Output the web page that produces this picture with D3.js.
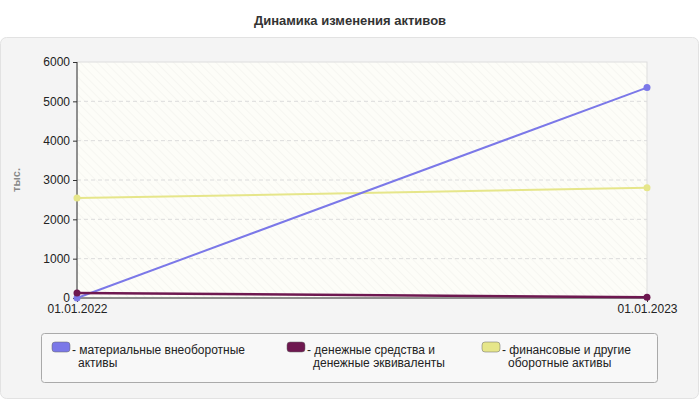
<!DOCTYPE html>
<html lang="ru">
<head>
<meta charset="utf-8">
<script src="https://d3js.org/d3.v7.min.js"></script>
<style>
  body { margin: 0; background: #fff; font-family: "Liberation Sans", Arial, sans-serif; }
</style>
</head>
<body>
<script>
// data
var dates = ["01.01.2022", "01.01.2023"];
var seriesNames = ["материальные внеоборотные\nактивы", "денежные средства и\nденежные эквиваленты", "финансовые и другие\nоборотные активы"];
var seriesColors = ["#7b78e8", "#6e1850", "#e6e68a"];
var material = [0, 5350];
var cash = [130, 20];
var financial = [2540, 2800];
var yTicks = [0, 1000, 2000, 3000, 4000, 5000, 6000];

var allSeries = [material, cash, financial];

var svg = d3.select("body").append("svg").attr("width", 700).attr("height", 400);

var defs = svg.append("defs");
var pat = defs.append("pattern").attr("id", "hatch").attr("width", 6).attr("height", 6)
  .attr("patternUnits", "userSpaceOnUse").attr("patternTransform", "rotate(-45)");
pat.append("rect").attr("width", 6).attr("height", 6).attr("fill", "#fdfdf8");
pat.append("line").attr("x1", 0).attr("y1", 0).attr("x2", 0).attr("y2", 6)
  .attr("stroke", "#efefea").attr("stroke-width", 1);

svg.append("text").text("Динамика изменения активов")
  .attr("x", 350).attr("y", 25).attr("text-anchor", "middle")
  .style("font-size", "13px").style("font-weight", "bold").attr("fill", "#333");

svg.append("rect").attr("x", 0.5).attr("y", 37.5).attr("width", 698).attr("height", 361)
  .attr("rx", 6).attr("fill", "#f4f4f4").attr("stroke", "#e2e2e2");

var pLeft = 77, pRight = 647, pTop = 62, pBottom = 298;
var x = d3.scalePoint().domain(dates).range([pLeft, pRight]);
var y = d3.scaleLinear().domain([0, 6000]).range([pBottom, pTop]);

svg.append("rect").attr("x", pLeft).attr("y", pTop).attr("width", pRight - pLeft).attr("height", pBottom - pTop)
  .attr("fill", "url(#hatch)").attr("stroke", "#dddddd");

svg.append("g").selectAll("line").data(yTicks.slice(1, -1)).enter().append("line")
  .attr("x1", pLeft).attr("x2", pRight).attr("y1", d => y(d)).attr("y2", d => y(d))
  .attr("stroke", "#dcdcdc").attr("stroke-dasharray", "4,3");

var yAxis = svg.append("g").attr("transform", "translate(" + pLeft + ",0)")
  .call(d3.axisLeft(y).tickValues(yTicks).tickSize(4).tickFormat(d3.format("d")));
var xAxis = svg.append("g").attr("transform", "translate(0," + pBottom + ")")
  .call(d3.axisBottom(x).tickSize(4).tickPadding(2));
[yAxis, xAxis].forEach(function (a) {
  a.selectAll("text").style("font-size", "12px").attr("fill", "#222").style("font-family", "Liberation Sans, Arial, sans-serif");
  a.selectAll("line, path").attr("stroke", "#333");
});
xAxis.select(".domain").attr("d", "M" + pLeft + ",0H" + pRight);
yAxis.select(".domain").attr("d", "M0," + pBottom + "V" + pTop);

svg.append("text").text("тыс.").attr("transform", "translate(20,180) rotate(-90)")
  .attr("text-anchor", "middle").style("font-size", "11px").style("font-weight", "bold").attr("fill", "#888");

var line = d3.line().x((d, i) => x(dates[i])).y(d => y(d));
var order = [2, 0, 1];
order.forEach(function (k) {
  svg.append("path").datum(allSeries[k]).attr("d", line).attr("fill", "none")
    .attr("stroke", seriesColors[k]).attr("stroke-width", k === 1 ? 2.5 : 2);
  svg.append("g").selectAll("circle").data(allSeries[k]).enter().append("circle")
    .attr("cx", (d, i) => x(dates[i])).attr("cy", d => y(d)).attr("r", 3.5).attr("fill", seriesColors[k]);
});

// legend
svg.append("rect").attr("x", 41.5).attr("y", 333.5).attr("width", 616).attr("height", 49)
  .attr("rx", 3).attr("fill", "#f8f8f8").attr("stroke", "#aaa");
var lx = [52, 287, 482];
seriesNames.forEach(function (n, i) {
  var g = svg.append("g").attr("transform", "translate(" + lx[i] + ",342)");
  g.append("rect").attr("width", 18).attr("height", 10).attr("rx", 3).attr("fill", seriesColors[i]).attr("stroke", "#666").attr("stroke-width", 0.5);
  var t = g.append("text").attr("x", 22).attr("y", 12).style("font-size", "12px").attr("fill", "#222");
  n.split("\n").forEach(function (s, j) {
    t.append("tspan").attr("x", j ? 26 : 20).attr("dy", j ? 13 : 0).text(j ? s : "- " + s);
  });
});
</script>
</body>
</html>
